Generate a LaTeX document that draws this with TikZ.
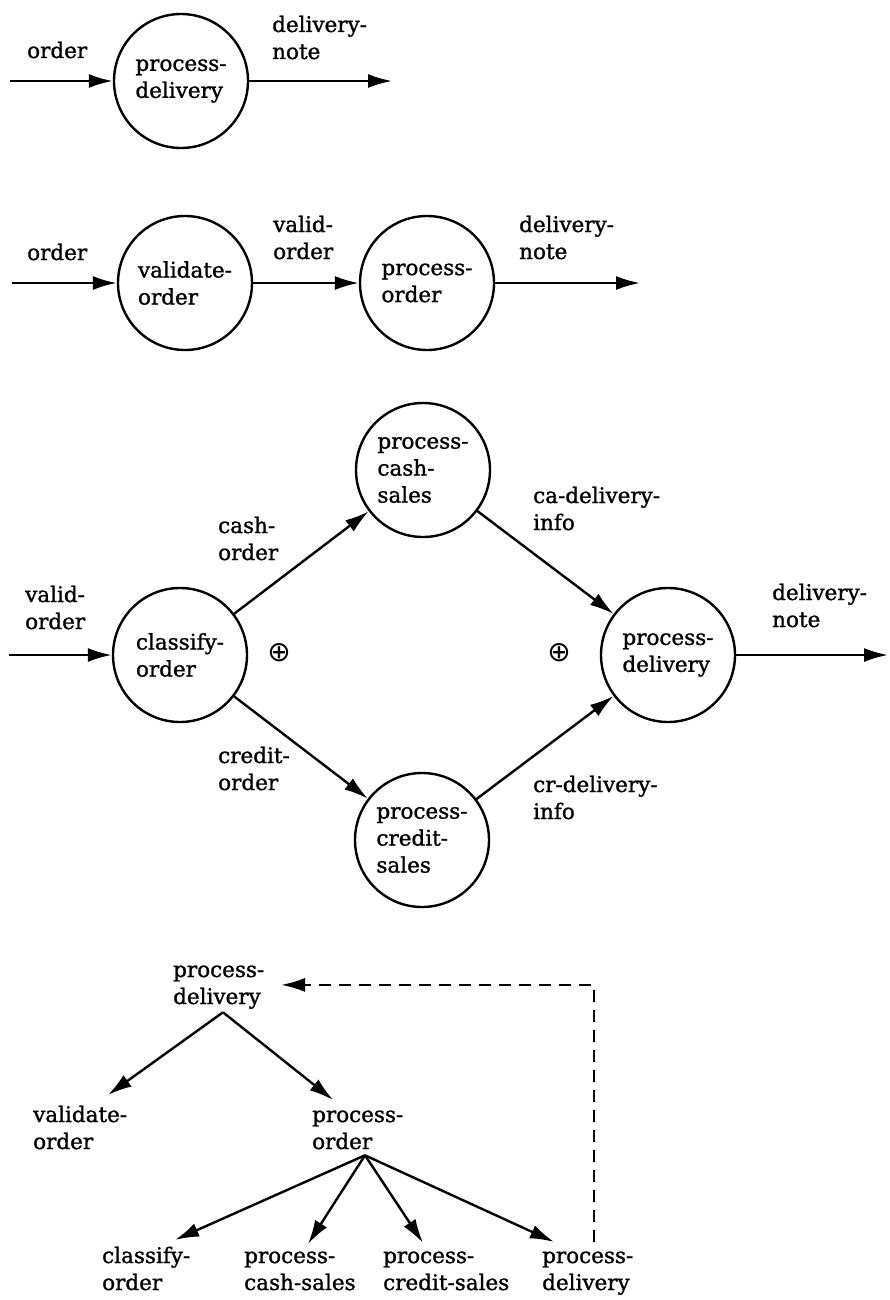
\documentclass[tikz,border=0pt]{standalone}
\usepackage{fontspec}
\setmainfont{DejaVu Serif}[BoldFont={DejaVu Serif},BoldFeatures={FakeBold=1.2}]
\newfontfamily\symfnt{DejaVu Sans}
\usetikzlibrary{arrows.meta,calc}
\newcommand\twolines[2]{\begin{tabular}[t]{@{}l@{}}#1\\#2\end{tabular}}
\begin{document}
\begin{tikzpicture}[x=1pt,y=-1pt,
  every node/.style={font=\fontsize{21.5}{27}\selectfont\bfseries},
  proc/.style={circle,draw,line width=2.4pt,minimum size=134pt,inner sep=0pt,align=left},
  lbl/.style={anchor=base west,inner sep=0pt},
  arr/.style={line width=2.4pt,-{Latex[length=24pt,width=14pt]}},
  dsh/.style={arr,dash pattern=on 12pt off 8pt},
  plus/.style={font=\fontsize{28}{28}\selectfont\symfnt,inner sep=0pt}]
\useasboundingbox (0,0) rectangle (890,1300);

% ---------- diagram 1
\node[proc] (pd1) at (181,81) {process-\\delivery};
\coordinate (in1) at (10,81);
\coordinate (out1) at (392,81);
\draw[arr] (in1) -- (pd1);
\draw[arr] (pd1) -- (out1);
\node[lbl] (l1a) at (27,58) {order};
\node[lbl] (l1b) at (272,32) {\twolines{delivery-}{note}};

% ---------- diagram 2
\node[proc] (vo) at (185,283) {validate-\\order};
\node[proc] (po) at (427,283) {process-\\order};
\coordinate (in2) at (12,283);
\coordinate (out2) at (640,283);
\draw[arr] (in2) -- (vo);
\draw[arr] (vo) -- (po);
\draw[arr] (po) -- (out2);
\node[lbl] (l2a) at (27,260) {order};
\node[lbl] (l2b) at (273,232) {\twolines{valid-}{order}};
\node[lbl] (l2c) at (519,232) {\twolines{delivery-}{note}};

% ---------- diagram 3
\node[proc] (cl) at (180,655) {classify-\\order};
\node[proc] (cs) at (423,470) {process-\\cash-\\sales};
\node[proc] (cr) at (422,840) {process-\\credit-\\sales};
\node[proc] (pd3) at (668,655) {process-\\delivery};
\coordinate (in3) at (9,655);
\coordinate (out3) at (888,655);
\draw[arr] (in3) -- (cl);
\draw[arr] (cl) -- (cs);
\draw[arr] (cs) -- (pd3);
\draw[arr] (cl) -- (cr);
\draw[arr] (cr) -- (pd3);
\draw[arr] (pd3) -- (out3);
\node[lbl] (l3a) at (25,602) {\twolines{valid-}{order}};
\node[lbl] (l3b) at (218,533) {\twolines{cash-}{order}};
\node[lbl] (l3c) at (533,503) {\twolines{ca-delivery-}{info}};
\node[lbl] (l3d) at (218,763) {\twolines{credit-}{order}};
\node[lbl] (l3e) at (533,792) {\twolines{cr-delivery-}{info}};
\node[lbl] (l3f) at (772,600) {\twolines{delivery-}{note}};
\node[plus] (p1) at (279,653) {⊕};
\node[plus] (p2) at (559,653) {⊕};

% ---------- diagram 4 (tree)
\node[lbl] (root) at (173,977) {\twolines{process-}{delivery}};
\node[lbl] (vo4) at (33,1122) {\twolines{validate-}{order}};
\node[lbl] (po4) at (312,1122) {\twolines{process-}{order}};
\node[lbl] (c4) at (102,1263) {\twolines{classify-}{order}};
\node[lbl] (cs4) at (244,1263) {\twolines{process-}{cash-sales}};
\node[lbl] (cr4) at (383,1263) {\twolines{process-}{credit-sales}};
\node[lbl] (pd4) at (542,1263) {\twolines{process-}{delivery}};

\coordinate (rs) at ([shift={(50pt,0pt)}]root.south west);
\coordinate (ps) at ([shift={(53pt,2pt)}]po4.south west);
\draw[arr] (rs) -- ([shift={(75pt,8pt)}]vo4.north west);
\draw[arr] (rs) -- ([shift={(21pt,3pt)}]po4.north west);
\draw[arr] (ps) -- ([shift={(73pt,4pt)}]c4.north west);
\draw[arr] (ps) -- ([shift={(64pt,0pt)}]cs4.north west);
\draw[arr] (ps) -- ([shift={(40pt,1pt)}]cr4.north west);
\draw[arr] (ps) -- ([shift={(12pt,2pt)}]pd4.north west);
\draw[dsh] ([shift={(52pt,2pt)}]pd4.north west) |- ([shift={(108pt,-27pt)}]root.north west);
\end{tikzpicture}
\end{document}
